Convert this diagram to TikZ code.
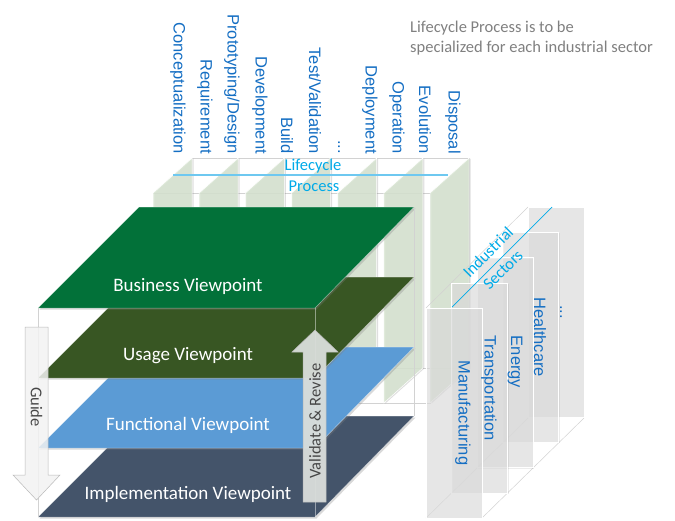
\documentclass[tikz,border=0pt]{standalone}
\usepackage{fontspec}
\setmainfont{Carlito}
\newfontfamily\arialf{Liberation Sans}
\usetikzlibrary{shadows}
\definecolor{bizcol}{RGB}{2,113,57}
\definecolor{usecol}{RGB}{56,86,35}
\definecolor{funcol}{RGB}{91,155,213}
\definecolor{impcol}{RGB}{68,84,106}
\definecolor{lcgreen}{RGB}{214,227,208}
\definecolor{secgray}{RGB}{226,226,226}
\definecolor{lblblue}{RGB}{20,110,195}
\definecolor{cyanlbl}{RGB}{0,170,232}
\definecolor{cyanthin}{RGB}{110,200,240}
\definecolor{notegray}{RGB}{128,128,128}
\definecolor{wire}{RGB}{210,210,210}
\definecolor{arrtext}{RGB}{70,70,70}
\begin{document}
\begin{tikzpicture}[x=1pt,y=-1pt,
  lcpanel/.style={fill=lcgreen, fill opacity=0.85, draw=white, line width=0.5pt,
    drop shadow={opacity=0.25, shadow xshift=1.5pt, shadow yshift=-0.5pt}},
  secpanel/.style={fill=secgray, fill opacity=0.6, draw=white, line width=0.5pt,
    drop shadow={opacity=0.15, shadow xshift=1.2pt, shadow yshift=-1pt}},
  vp/.style={draw=white, draw opacity=0.5, line width=0.5pt,
    drop shadow={opacity=0.3, shadow xshift=1.5pt, shadow yshift=-1.5pt}},
  wireline/.style={draw=wire, line width=0.5pt},
  cyanline/.style={draw=cyanlbl, line width=0.7pt},
  lclabel/.style={text=lblblue, rotate=-90, anchor=east, inner sep=0pt, font=\arialf\fontsize{16.5}{18}\selectfont},
  seclabel/.style={text=lblblue, rotate=-90, inner sep=0pt, font=\arialf\fontsize{16.5}{18}\selectfont},
  cyantext/.style={text=cyanlbl, inner sep=0pt, font=\fontsize{16.5}{18}\selectfont},
  vptext/.style={text=white, inner sep=0pt, font=\fontsize{19}{22}\selectfont},
  arrowtext/.style={text=arrtext, inner sep=0pt, font=\fontsize{16.5}{18}\selectfont},
  bigarrow/.style={draw={rgb,255:red,185;green,185;blue,185}, line width=0.5pt}
]
\useasboundingbox (0,0) rectangle (675,520);

% note
\node[anchor=west, align=left, text=notegray, inner sep=0pt,
  font=\fontsize{16.5}{20}\selectfont] (note) at (410,38)
  {Lifecycle Process is to be\\specialized for each industrial sector};

% lifecycle labels
\node[lclabel] (l1) at (178,154) {Conceptualization};
\node[lclabel] (l2) at (205,154) {Requirement};
\node[lclabel] (l3) at (232,154) {Prototyping/Design};
\node[lclabel] (l4) at (260,154) {Development};
\node[lclabel] (l5) at (287,154) {Build};
\node[lclabel] (l6) at (315,154) {Test/Validation};
\node[lclabel] (l7) at (339,154) {...};
\node[lclabel] (l8) at (370,154) {Deployment};
\node[lclabel] (l9) at (397,154) {Operation};
\node[lclabel] (l10) at (425,154) {Evolution};
\node[lclabel] (l11) at (453,154) {Disposal};

% lifecycle wireframe
\draw[wireline] (153,193) -- (430,193);
\draw[wireline] (192,158) -- (469,158);
\draw[wireline] (430,193) -- (430,403) -- (153,403);
\draw[wireline] (469,158) -- (469,368) -- (192,368);
\draw[wireline] (430,403) -- (469,368);

% lifecycle panels
\foreach \i in {0,...,6} {
  \pgfmathsetmacro\f{153+46.17*\i}
  \draw[lcpanel] (\f,193) -- (\f+39,158) -- (\f+39,368) -- (\f,403) -- cycle;
}

% lifecycle process label
\coordinate (lcA) at (173,175);
\coordinate (lcB) at (448,175);
\draw[draw=cyanthin, line width=1.1pt] (lcA) -- (lcB);
\node[cyantext] (lc1) at (313,166) {Lifecycle};
\node[cyantext] (lc2) at (314,186) {Process};

% industrial sector wireframe
\draw[wireline] (426,308) -- (528,207);
\draw[wireline] (482,518) -- (584,418);
\draw[wireline] (426,518) -- (528,418);

% industrial panels
\foreach \k in {4,3,2,1,0} {
  \pgfmathsetmacro\sx{426+25.5*\k}
  \pgfmathsetmacro\sy{308-25.2*\k}
  \draw[secpanel] (\sx,\sy) rectangle (\sx+56,\sy+210);
}
\coordinate (isA) at (452,307);
\coordinate (isB) at (552,207);
\draw[cyanline] (isA) -- (isB);
\node[cyantext, rotate=45] (is1) at (488,252) {Industrial};
\node[cyantext, rotate=45] (is2) at (503,270) {Sectors};

\node[seclabel] (s1) at (463,413) {Manufacturing};
\node[seclabel] (s2) at (489,388) {Transportation};
\node[seclabel] (s3) at (515,362) {Energy};
\node[seclabel] (s4) at (540,337) {Healthcare};
\node[seclabel] (s5) at (561,312) {...};

% viewpoint planes
\fill[vp, fill=impcol] (38,517) -- (315,517) -- (414,416) -- (139,416) -- cycle;
\fill[vp, fill=funcol] (38,448) -- (315,448) -- (414,347) -- (139,347) -- cycle;
\fill[vp, fill=usecol] (38,378) -- (315,378) -- (414,277) -- (139,277) -- cycle;
\fill[vp, fill=bizcol] (38,308) -- (315,308) -- (414,207) -- (139,207) -- cycle;

% cube edges
\draw[wireline] (38,308) -- (38,517);
\draw[draw=white, draw opacity=0.45, line width=0.6pt] (315,308) -- (315,517);
\draw[wireline] (414,207) -- (414,416);

\node[vptext] (vb) at (188,286) {Business Viewpoint};
\node[vptext] (vu) at (188,356) {Usage Viewpoint};
\node[vptext] (vf) at (188,425) {Functional Viewpoint};
\node[vptext] (vi) at (188,494) {Implementation Viewpoint};

% guide arrow
\filldraw[bigarrow, fill={rgb,255:red,242;green,242;blue,242}, fill opacity=0.85]
  (25,327) -- (48,327) -- (48,475) -- (60,475) -- (36.5,500) -- (13,475) -- (25,475) -- cycle;
\node[arrowtext, rotate=-90] (guide) at (36.5,407) {Guide};

% validate arrow
\filldraw[bigarrow, fill={rgb,255:red,218;green,222;blue,219}, fill opacity=0.95]
  (303,502) -- (326,502) -- (326,352) -- (338,352) -- (315,330) -- (292,352) -- (303,352) -- cycle;
\node[arrowtext, rotate=90] (val) at (315,421) {Validate \& Revise};
\end{tikzpicture}
\end{document}
